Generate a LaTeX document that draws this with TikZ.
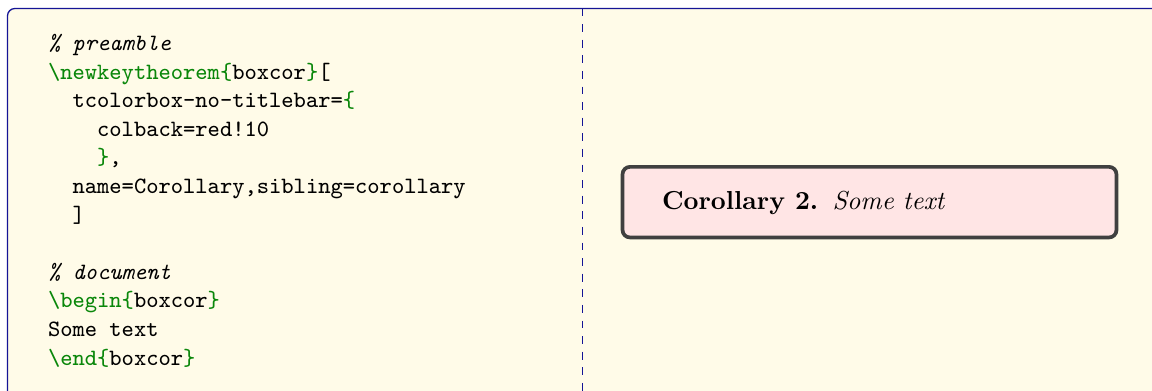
\documentclass[tikz,border=0pt]{standalone}
\usepackage{xcolor}
\definecolor{kwgreen}{RGB}{10,135,10}
\definecolor{framecol}{RGB}{20,20,150}
\definecolor{listback}{RGB}{255,251,232}
\newcommand\kwc[1]{\textcolor{kwgreen}{#1}}
\begin{document}
\begin{tikzpicture}[x=0.384615pt,y=-0.384615pt,
  codeline/.style={anchor=base west, inner sep=0pt, font=\ttfamily\small},
  listframe/.style={draw=framecol, line width=0.5pt, fill=listback, rounded corners=2.84pt},
  divider/.style={draw=framecol, line width=0.5pt, dash pattern=on 3pt off 3pt},
  corbox/.style={draw=black!75, line width=1.42pt, fill=red!10, rounded corners=2.84pt,
    minimum width=189.96pt, minimum height=27.15pt, inner sep=0pt},
  cortext/.style={anchor=base west, inner sep=0pt, font=\normalsize}]
\useasboundingbox (0,0) rectangle (1152,390);
\clip (0,0) rectangle (1152,390);
\draw[listframe] (7.5,8.5) rectangle (1175,420);
\coordinate (dtop) at (582.5,8.5);
\coordinate (dbot) at (582.5,400);
\draw[divider] (dtop) -- (dbot);
% code lines
\node[codeline] (c1) at (47.5,50.5) {\itshape\%\ preamble};
\node[codeline] (c2) at (47.5,79.1) {\kwc{\textbackslash newkeytheorem\{}boxcor\kwc{\}}[};
\node[codeline] (c3) at (47.5,107.7) {\ \ tcolorbox-no-titlebar=\kwc{\{}};
\node[codeline] (c4) at (47.5,136.3) {\ \ \ \ colback=red!10};
\node[codeline] (c5) at (47.5,164.9) {\ \ \ \ \kwc{\}},};
\node[codeline] (c6) at (47.5,193.5) {\ \ name=Corollary,sibling=corollary};
\node[codeline] (c7) at (47.5,222.1) {\ \ ]};
\node[codeline] (c9) at (47.5,279.3) {\itshape\%\ document};
\node[codeline] (c10) at (47.5,307.9) {\kwc{\textbackslash begin\{}boxcor\kwc{\}}};
\node[codeline] (c11) at (47.5,336.5) {Some\ text};
\node[codeline] (c12) at (47.5,365.1) {\kwc{\textbackslash end\{}boxcor\kwc{\}}};
% result box
\node[corbox] (cor) at (869.5,202.15) {};
\node[cortext] (cort) at (661.5,209.3) {\textbf{Corollary 2.}\hspace{5.5pt}\textit{Some text}};
\end{tikzpicture}
\end{document}
